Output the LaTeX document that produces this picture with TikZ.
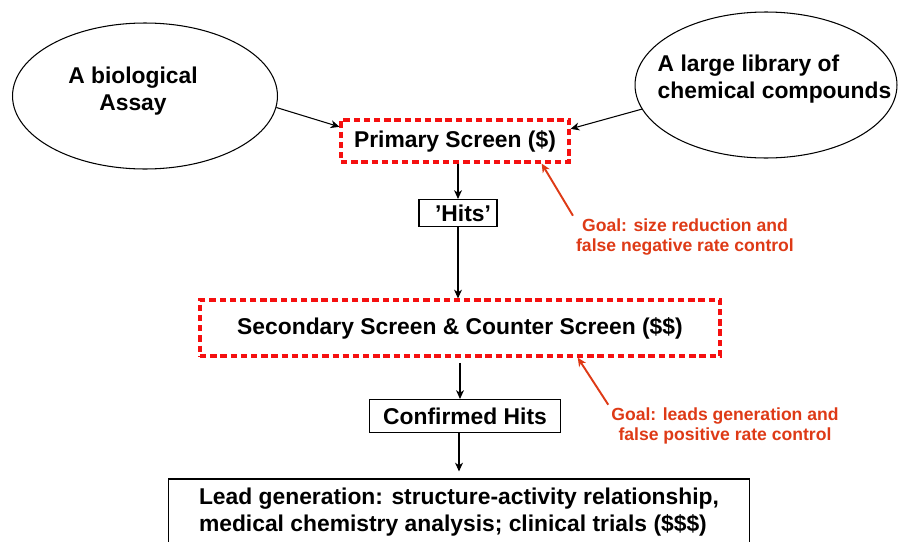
\documentclass[tikz,border=0pt]{standalone}
\usepackage{fontspec}
\setmainfont{Liberation Sans}
\usepackage{xcolor}
\usepackage{tikz}
\usetikzlibrary{arrows.meta,positioning,calc,shapes.geometric}

\definecolor{screenred}{RGB}{245,16,16}
\definecolor{goalred}{RGB}{222,58,22}

\begin{document}
\begin{tikzpicture}[
  x=0.02cm, y=-0.02cm,
  >={Stealth[length=5pt,width=4.5pt,inset=1.5pt]},
  font=\bfseries\fontsize{13}{15.3}\selectfont,
  line width=0.6pt,
  source/.style={draw, ellipse, inner sep=0pt, minimum height=2.92cm},
  screenbox/.style={draw=screenred, line width=1.8pt, dash pattern=on 3.6pt off 2.2pt},
  hitbox/.style={draw, inner sep=2pt},
  goal/.style={text=goalred, font=\bfseries\fontsize{10}{11.3}\selectfont, align=center, inner sep=1.5pt},
  goalarrow/.style={->, draw=goalred, line width=1.1pt}
]
\useasboundingbox (0,0) rectangle (898,541);

% ==================== Sources ====================
\node (assay) [source, minimum width=5.30cm,
  label={[align=center, xshift=-0.24cm, yshift=0.09cm]center:{A biological\\Assay}}]
  at (145,96) {};
\node (library) [source, minimum width=5.24cm,
  label={[align=left, xshift=0.17cm, yshift=0.11cm]center:{A large library of\\chemical compounds}}]
  at (766,85) {};

% ==================== Screening cascade ====================
\node (primary) [screenbox, minimum width=4.56cm, minimum height=0.84cm] at (455,141)
  {Primary Screen (\$)};
\node (hits) [hitbox, minimum width=1.56cm, minimum height=0.54cm] at (458,213)
  {\hspace*{0.2cm}'Hits'};
\node (secondary) [screenbox, minimum width=10.4cm, minimum height=1.12cm] at (460,328)
  {Secondary Screen \& Counter Screen (\$\$)};
\node (confirmed) [hitbox, minimum width=3.82cm, minimum height=0.66cm] at (465,416)
  {Confirmed Hits};
\node (lead) [draw, align=left, minimum width=11.64cm, minimum height=1.32cm] at (459,512)
  {Lead generation: structure-activity relationship,\\medical chemistry analysis; clinical trials (\$\$\$)};

% Goals
\node (goalA) [goal] at (685,237) {Goal: size reduction and\\false negative rate control};
\node (goalB) [goal] at (725,426) {Goal: leads generation and\\false positive rate control};

% ==================== Connectors ====================
\draw[->] (assay.-5) -- (primary.173);
\draw[->] (library.191) -- (primary.6);
\draw[->] (primary.south -| hits.north) -- (hits.north);
\draw[->] (hits.south) -- (hits.south |- secondary.north);
\draw[->, shorten <=3pt] (secondary.south) -- (secondary.south |- confirmed.north);
\draw[->, shorten >=4pt] (confirmed.south -| lead.north) -- (lead.north);

\draw[goalarrow] (goalA.north west) -- ($(primary.south)!0.75!(primary.south east)$);
\draw[goalarrow] (goalB.north west) -- ($(secondary.south)!0.45!(secondary.south east)$);
\end{tikzpicture}
\end{document}
